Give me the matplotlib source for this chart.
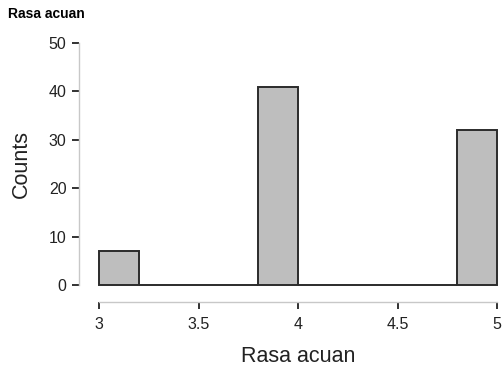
import numpy as np
import matplotlib
matplotlib.use('Agg')
import matplotlib.pyplot as plt

plt.rcParams['font.family'] = ['Liberation Sans', 'DejaVu Sans']

# histogram data (bin edges and counts)
bin_edges = [3.0, 3.2, 3.4, 3.6, 3.8, 4.0, 4.2, 4.4, 4.6, 4.8, 5.0]
counts = [7, 0, 0, 0, 41, 0, 0, 0, 0, 32]
x_ticks = [3, 3.5, 4, 4.5, 5]
x_tick_labels = ['3', '3.5', '4', '4.5', '5']
y_ticks = [0, 10, 20, 30, 40, 50]

fig = plt.figure(figsize=(5.03, 3.69), dpi=100)
ax = fig.add_axes([99 / 503, 1 - 285 / 369, 398 / 503, 242 / 369])

lefts = np.array(bin_edges[:-1])
widths = np.diff(bin_edges)
ax.bar(lefts, counts, width=widths, align='edge', color='#bebebe',
       edgecolor='#2b2b2b', linewidth=1.4, clip_on=False)

ax.set_xlim(3, 5)
ax.set_ylim(0, 50)
ax.set_xticks(x_ticks)
ax.set_xticklabels(x_tick_labels)
ax.set_yticks(y_ticks)

for s in ['top', 'right']:
    ax.spines[s].set_visible(False)
# offsets in points (px * 0.72)
ax.spines['left'].set_position(('outward', 14.4))
ax.spines['bottom'].set_position(('outward', 12))
ax.spines['left'].set_bounds(0, 50)
ax.spines['bottom'].set_bounds(3, 5)
for s in ['left', 'bottom']:
    ax.spines[s].set_color('#c8c8c8')
    ax.spines[s].set_linewidth(1.0)

ax.tick_params(axis='both', colors='#222222', labelsize=11.5, length=5, width=1.3)
ax.tick_params(axis='x', pad=6)
ax.tick_params(axis='y', pad=4)

ax.set_xlabel('Rasa acuan', fontsize=15.5, labelpad=10, color='#222222')
ax.set_ylabel('Counts', fontsize=15.5, labelpad=12, color='#222222')

fig.text(8 / 503, 1 - 14 / 369, 'Rasa acuan', fontsize=10, fontweight='bold',
         va='center', ha='left')

fig.savefig('out.png', dpi=100)
